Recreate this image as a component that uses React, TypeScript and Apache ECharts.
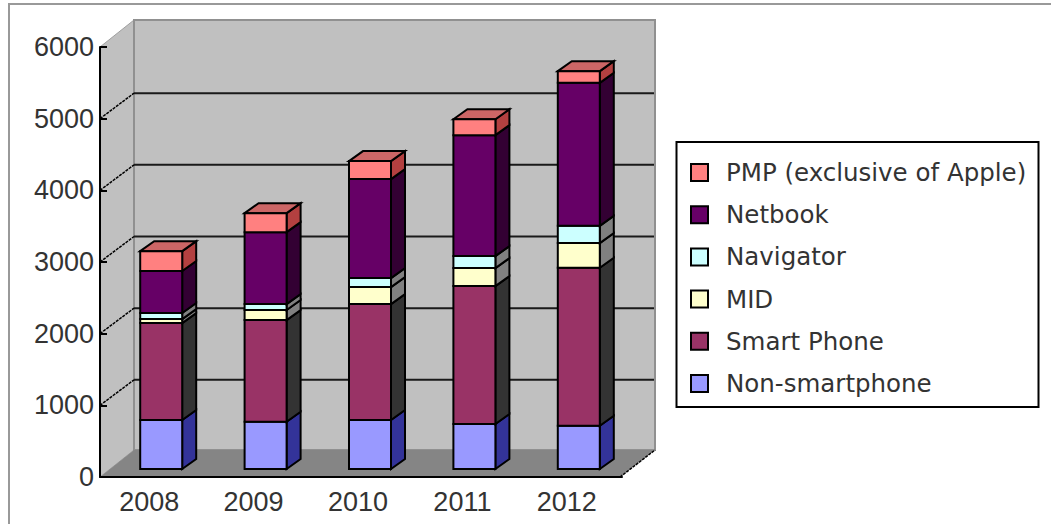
import React, { useEffect, useRef } from "react";
import * as echarts from "echarts";

const categories = ["2008", "2009", "2010", "2011", "2012"];
const yTicks = [0, 1000, 2000, 3000, 4000, 5000, 6000];
const nonSmartphone = [683, 660, 683, 628, 604];
const smartPhone = [1353, 1418, 1618, 1924, 2204];
const mid = [56, 140, 237, 251, 344];
const navigator_ = [84, 83, 126, 168, 241];
const netbook = [586, 1004, 1381, 1687, 1995];
const pmp = [278, 265, 251, 223, 163];

const seriesDefs = [
  { name: "Non-smartphone", values: nonSmartphone, front: "#9999FF", side: "#333399" },
  { name: "Smart Phone", values: smartPhone, front: "#993366", side: "#333333" },
  { name: "MID", values: mid, front: "#FFFFCC", side: "#808080" },
  { name: "Navigator", values: navigator_, front: "#CCFFFF", side: "#808080" },
  { name: "Netbook", values: netbook, front: "#660066", side: "#330033" },
  { name: "PMP (exclusive of Apple)", values: pmp, front: "#FF8080", side: "#B34040", top: "#CC6666" },
];
const legendOrder = ["PMP (exclusive of Apple)", "Netbook", "Navigator", "MID", "Smart Phone", "Non-smartphone"];

const FONT = "DejaVu Sans";
const DX = 34, DY = 27, GRID_DY = 25.5;
const BAR_L = -12, BAR_W = 42, BAR_DY = 8, SIDE_X = 14, SIDE_Y = 10;

function wallsRender(params: any, api: any) {
  const c = params.coordSys;
  const l = c.x, r = c.x + c.width - 2, t = c.y, b = c.y + c.height;
  const grid = (v: number) => api.coord([0, v])[1];
  const children: any[] = [
    { type: "polygon", shape: { points: [[l, b], [l, t], [l + DX, t - DY], [l + DX, b - DY]] }, style: { fill: "#C0C0C0", stroke: "#A0A0A0", lineWidth: 1 } },
    { type: "polygon", shape: { points: [[l + DX, t - DY], [r + DX + 1, t - DY], [r + DX + 1, b - DY], [l + DX, b - DY]] }, style: { fill: "#C0C0C0", stroke: "#909090", lineWidth: 2 } },
    { type: "polygon", shape: { points: [[l, b], [r, b], [r + DX + 1, b - DY], [l + DX, b - DY]] }, style: { fill: "#858585" } },
    { type: "line", shape: { x1: r, y1: b, x2: r + DX + 1, y2: b - DY }, style: { stroke: "#000", lineWidth: 1.5, lineDash: [3, 1] } },
  ];
  yTicks.forEach((v) => {
    if (v === 0 || v === 6000) return;
    const y = grid(v);
    children.push({ type: "line", shape: { x1: l + DX, y1: y - GRID_DY, x2: r + DX, y2: y - GRID_DY }, style: { stroke: "#1A1A1A", lineWidth: 2 } });
    children.push({ type: "line", shape: { x1: l, y1: y, x2: l + DX, y2: y - GRID_DY }, style: { stroke: "#000", lineWidth: 1.5, lineDash: [3, 1] } });
  });
  return { type: "group", children };
}

function barRender(def: any) {
  return (_p: any, api: any) => {
    const cat = api.value(0);
    const cx = api.coord([cat, 0])[0];
    const y0 = api.coord([cat, api.value(1)])[1] - BAR_DY;
    const y1 = api.coord([cat, api.value(2)])[1] - BAR_DY;
    const x0 = cx + BAR_L, x1 = x0 + BAR_W;
    const border = { stroke: "#000", lineWidth: 2 };
    const children: any[] = [
      { type: "polygon", shape: { points: [[x1, y0], [x1 + SIDE_X, y0 - SIDE_Y], [x1 + SIDE_X, y1 - SIDE_Y], [x1, y1]] }, style: { fill: def.side, ...border } },
    ];
    if (def.top) {
      children.push({ type: "polygon", shape: { points: [[x0, y1], [x0 + SIDE_X, y1 - SIDE_Y], [x1 + SIDE_X, y1 - SIDE_Y], [x1, y1]] }, style: { fill: def.top, ...border } });
    }
    children.push({ type: "rect", shape: { x: x0, y: y1, width: BAR_W, height: y0 - y1 }, style: { fill: def.front, ...border } });
    return { type: "group", children };
  };
}

function buildBarSeries() {
  const running = categories.map(() => 0);
  return seriesDefs.map((def, s) => ({
    type: "custom",
    name: def.name,
    renderItem: barRender(def),
    clip: false,
    z: 3 + s,
    itemStyle: { color: def.front, borderColor: "#000", borderWidth: 1.5 },
    encode: { x: 0, y: [1, 2] },
    data: def.values.map((v, i) => {
      const start = running[i];
      running[i] += v;
      return [i, start, running[i]];
    }),
  }));
}

export default function App() {
  const ref = useRef<HTMLDivElement>(null);
  useEffect(() => {
    document.body.style.margin = "0";
    const chart = echarts.init(ref.current!, undefined, { renderer: "svg" });
    chart.setOption({
      animation: false,
      backgroundColor: "#FFFFFF",
      grid: { left: 100, top: 47, width: 522, height: 430, containLabel: false },
      xAxis: {
        type: "category",
        data: categories,
        z: 1,
        axisLine: { lineStyle: { color: "#000", width: 2 } },
        axisTick: { inside: true, length: 7, lineStyle: { color: "#000", width: 2 } },
        axisLabel: { color: "#333", fontFamily: "Liberation Sans", fontSize: 27, margin: 11, interval: 0, padding: [0, 6, 0, 0] },
      },
      yAxis: {
        type: "value",
        min: 0,
        max: 6000,
        interval: 1000,
        z: 1,
        splitLine: { show: false },
        axisLine: { show: true, lineStyle: { color: "#000", width: 2 } },
        axisTick: { show: true, inside: true, length: 7, lineStyle: { color: "#000", width: 2 } },
        axisLabel: { color: "#333", fontFamily: "Liberation Sans", fontSize: 27, margin: 6, formatter: (v: number) => String(v) },
      },
      legend: {
        orient: "vertical",
        left: 690,
        top: 160,
        padding: 0,
        itemWidth: 17,
        itemHeight: 17,
        itemGap: 17.2,
        icon: "rect",
        data: legendOrder,
        selectedMode: false,
        textStyle: { fontFamily: FONT, fontSize: 24.5, lineHeight: 24.5, color: "#333", padding: [0, 0, 0, 13] },
      },
      graphic: [
        { type: "rect", z: 0, shape: { x: 676.5, y: 142, width: 362, height: 265 }, style: { fill: "#fff", stroke: "#000", lineWidth: 2 } },
        { type: "rect", z: 0, shape: { x: 9, y: 4, width: 1100, height: 600 }, style: { fill: "none", stroke: "#999", lineWidth: 2 } },
      ],
      series: [
        { type: "custom", name: "walls", silent: true, renderItem: wallsRender, clip: false, z: 0, data: [[0, 0]], encode: { x: 0, y: 1 } },
        ...buildBarSeries(),
      ],
    });
    return () => chart.dispose();
  }, []);
  return <div ref={ref} style={{ position: "fixed", left: 0, top: 0, width: 1051, height: 524 }} />;
}
